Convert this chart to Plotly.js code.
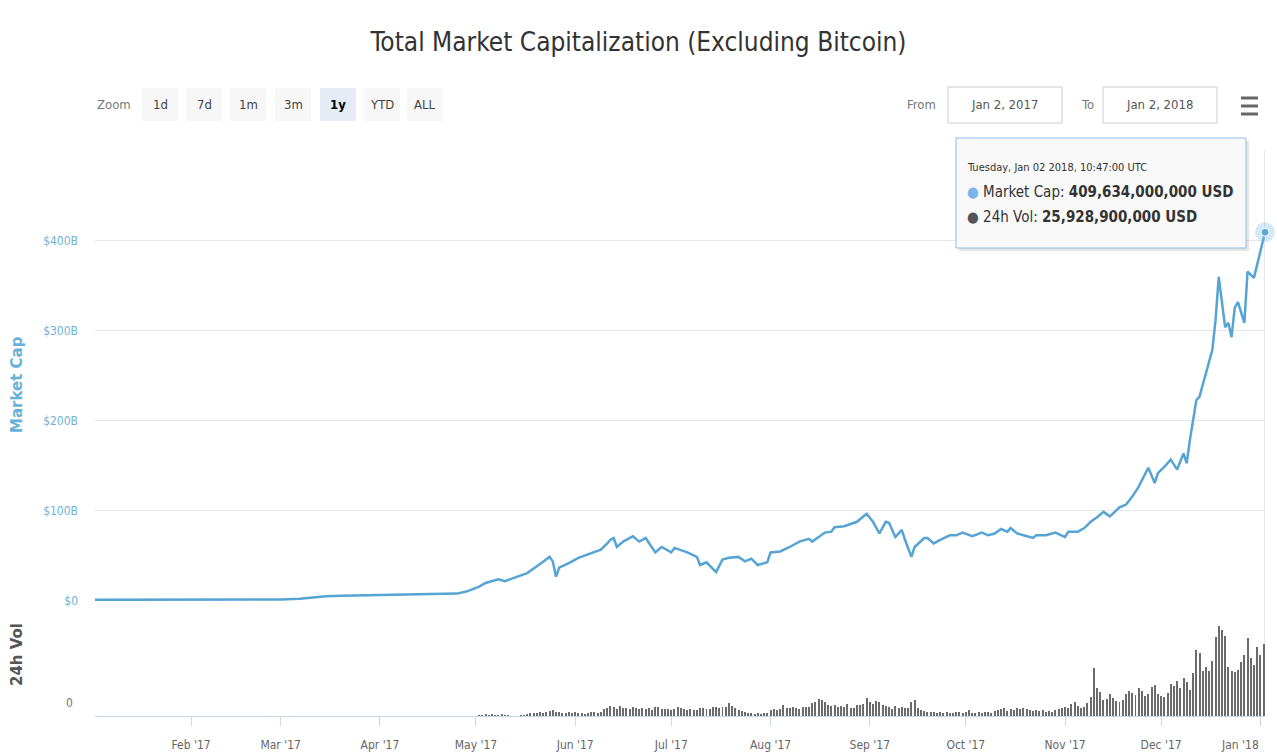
<!DOCTYPE html>
<html><head><meta charset="utf-8">
<script src="https://cdn.plot.ly/plotly-3.0.1.min.js"></script>
<style>html,body{margin:0;padding:0;background:#fff}#chart{width:1277px;height:755px}</style>
</head><body><div id="chart"></div>
<script>
// ---------- DATA ----------
const mcDates = ['2017-01-02','2017-01-10','2017-01-20','2017-02-01','2017-02-10','2017-02-20','2017-03-01','2017-03-07','2017-03-11','2017-03-15','2017-03-20','2017-03-28','2017-04-05','2017-04-15','2017-04-25','2017-04-28','2017-05-01','2017-05-02','2017-05-04','2017-05-08','2017-05-10','2017-05-14','2017-05-17','2017-05-21','2017-05-23','2017-05-24','2017-05-25','2017-05-26','2017-05-27','2017-05-30','2017-06-02','2017-06-06','2017-06-09','2017-06-11','2017-06-12','2017-06-13','2017-06-14','2017-06-16','2017-06-19','2017-06-21','2017-06-23','2017-06-26','2017-06-28','2017-07-01','2017-07-02','2017-07-06','2017-07-09','2017-07-10','2017-07-12','2017-07-15','2017-07-17','2017-07-19','2017-07-22','2017-07-24','2017-07-26','2017-07-28','2017-07-31','2017-08-01','2017-08-04','2017-08-07','2017-08-10','2017-08-13','2017-08-14','2017-08-18','2017-08-20','2017-08-21','2017-08-24','2017-08-28','2017-08-31','2017-09-02','2017-09-04','2017-09-06','2017-09-07','2017-09-09','2017-09-11','2017-09-12','2017-09-14','2017-09-15','2017-09-18','2017-09-19','2017-09-21','2017-09-23','2017-09-26','2017-09-28','2017-09-30','2017-10-03','2017-10-06','2017-10-08','2017-10-10','2017-10-12','2017-10-14','2017-10-15','2017-10-17','2017-10-19','2017-10-22','2017-10-23','2017-10-26','2017-10-29','2017-11-01','2017-11-02','2017-11-05','2017-11-07','2017-11-09','2017-11-11','2017-11-13','2017-11-15','2017-11-18','2017-11-20','2017-11-22','2017-11-24','2017-11-27','2017-11-29','2017-11-30','2017-12-02','2017-12-04','2017-12-06','2017-12-08','2017-12-09','2017-12-10','2017-12-12','2017-12-13','2017-12-15','2017-12-17','2017-12-18','2017-12-19','2017-12-21','2017-12-22','2017-12-23','2017-12-24','2017-12-25','2017-12-27','2017-12-28','2017-12-30','2018-01-02 10:47'];
const mcValues = [1.3,1.3,1.4,1.4,1.5,1.6,1.8,2.4,3.6,5.4,5.8,6.4,7.0,7.6,8.2,10.5,14.5,16,20,24,22,27,31,41,46,49,44,27,37,42,48,53,57,64,68,70,60,66,72,66,70,54,60,54,59,54,49,40,43,32,46,48,49,44,47,40,43,54,55,60,66,69,66,76,77,82,83,88,97,88,75,88,87,71,79,68,49,60,70,70,64,68,73,73,76,72,76,73,75,80,77,81,75,73,70,73,73,76,71,77,77,81,88,93,99,94,104,107,116,127,148,131,142,149,157,146,164,153,179,223,227,253,279,312,360,304,309,293,326,332,309,366,359,409.634];

const volStart = '2017-05-02';
const volValues = [
 // May 2 - May 31
 0.5,0.3,0.6,0.4,0.7,0.3,0.5,0.6,0.4,0.3,0.1,0.1,0.1,0.2,0.3,0.9,1.0,1.1,1.2,1.4,1.0,1.6,1.9,2.0,1.3,1.5,1.2,1.0,1.3,1.1,
 // Jun
 1.4,1.2,1.0,0.9,1.1,1.5,1.3,1.2,1.6,2.4,2.8,3.6,3.2,2.6,3.5,2.8,3.0,2.4,3.4,3.0,2.6,2.9,2.5,2.8,2.3,3.1,3.3,2.6,2.4,2.7,
 // Jul
 2.2,2.5,3.1,2.9,2.4,2.3,2.6,2.2,2.1,2.8,3.0,2.6,2.7,3.2,3.1,2.9,3.3,3.4,4.8,3.6,2.9,2.0,1.8,1.4,1.2,1.0,0.9,1.1,0.8,1.0,1.2,
 // Aug
 2.0,2.4,2.2,2.6,4.0,2.8,3.0,3.2,3.0,2.7,3.3,3.1,3.4,4.6,5.2,6.0,5.8,5.1,4.0,3.6,3.9,3.3,3.6,3.1,4.2,3.0,2.8,4.1,3.8,4.5,6.5,
 // Sep
 5.0,4.2,5.6,5.2,4.0,3.5,3.1,2.6,3.6,2.9,3.4,2.8,3.0,4.9,5.8,3.0,2.0,1.8,1.5,1.6,1.3,1.2,1.4,1.1,1.5,1.2,1.0,1.3,1.6,1.2,
 // Oct
 1.4,2.0,1.2,1.0,1.4,1.1,1.3,1.6,1.2,1.8,2.0,2.6,2.8,1.9,2.5,2.2,3.0,2.6,2.9,2.4,2.2,1.8,2.0,1.7,2.3,1.6,1.9,1.4,2.2,2.6,3.0,
 // Nov
 3.4,2.8,4.2,5.0,3.6,2.9,3.2,4.6,7.0,17.5,10.0,8.6,5.8,6.2,7.8,6.4,5.4,5.0,5.8,7.8,9.2,8.4,7.6,10.0,9.0,7.2,8.1,10.4,11.2,8.0,
 // Dec
 7.4,7.0,8.2,11.6,11.0,12.6,10.2,13.8,12.4,9.5,15.6,23.8,22.6,16.4,17.8,16.2,20.0,28.5,32.6,31.2,29.0,17.8,16.4,15.8,16.5,19.6,22.2,28.2,21.0,18.4,25.0,
 // Jan 1 - Jan 2
 22.0,25.9289];

const monthTicks = ['2017-02-01','2017-03-01','2017-04-01','2017-05-01','2017-06-01','2017-07-01','2017-08-01','2017-09-01','2017-10-01','2017-11-01','2017-12-01','2018-01-01'];
const monthLabels = ["Feb '17","Mar '17","Apr '17","May '17","Jun '17","Jul '17","Aug '17","Sep '17","Oct '17","Nov '17","Dec '17",""];
const lastMonthLabel = "Jan '18";
const capTickVals = [0,100,200,300,400,500];
const capTickText = ['$0','$100B','$200B','$300B','$400B',''];
const rangeButtons = ['1d','7d','1m','3m','1y','YTD','ALL'];
const selectedButton = '1y';
const fromDate = 'Jan 2, 2017';
const toDate = 'Jan 2, 2018';
const tooltipDate = 'Tuesday, Jan 02 2018, 10:47:00 UTC';

// ---------- BUILD ----------
const volDates = volValues.map((v,i)=>new Date(Date.parse(volStart+'T00:00:00Z')+i*86400000).toISOString().slice(0,10));

const FONT = '"DejaVu Sans Condensed","Liberation Sans",Arial,sans-serif';
const L=95, R=1265, T=150, B=716;
const px = x => (x-L)/(R-L);
const py = y => (B-y)/(B-T);

const lineColor = '#55a4d4';
const lastDate = mcDates[mcDates.length-1];
const lastCap = mcValues[mcValues.length-1];
const lastVol = volValues[volValues.length-1];
const fmt = v => Math.round(v*1e9).toLocaleString('en-US');

const traces = [
 {type:'scatter', mode:'lines', x:mcDates, y:mcValues, xaxis:'x', yaxis:'y',
  line:{color:lineColor, width:2.5}, hoverinfo:'skip'},
 {type:'bar', x:volDates, y:volValues, xaxis:'x', yaxis:'y2',
  marker:{color:'#6b6b6b', line:{width:0}}, width:0.62*86400000, hoverinfo:'skip'},
 {type:'scatter', mode:'markers', x:[lastDate], y:[lastCap], xaxis:'x', yaxis:'y',
  marker:{size:20, color:'rgba(124,181,236,0.30)'}, hoverinfo:'skip', cliponaxis:false},
 {type:'scatter', mode:'markers', x:[lastDate], y:[lastCap], xaxis:'x', yaxis:'y',
  marker:{size:8, color:'#5aaad8', line:{color:'#ffffff', width:1}}, hoverinfo:'skip', cliponaxis:false}
];

const shapes = [];
const annotations = [];
function rect(x0,y0,x1,y1,fill,lc,lw){shapes.push({type:'rect',xref:'paper',yref:'paper',x0:px(x0),x1:px(x1),y0:py(y1),y1:py(y0),fillcolor:fill,line:{color:lc||'rgba(0,0,0,0)',width:lw||0},layer:'above'});}
function txt(x,y,text,size,color,anchor,extra,fam){annotations.push(Object.assign({xref:'paper',yref:'paper',x:px(x),y:py(y),text:text,showarrow:false,xanchor:anchor||'center',yanchor:'middle',font:{family:fam||FONT,size:size,color:color}},extra||{}));}

// crosshair
shapes.push({type:'line',xref:'x',yref:'paper',x0:lastDate,x1:lastDate,y0:0,y1:1,line:{color:'#cccccc',width:1},layer:'below'});

// range selector
txt(114,104,'Zoom',13,'#777');
const btnX = [160,204,248,293,338,382,425];
rangeButtons.forEach((b,i)=>{
  const sel = b===selectedButton;
  rect(btnX[i]-18,88,btnX[i]+18,121, sel?'#e6ebf5':'#f7f7f7');
  txt(btnX[i],104, sel?'<b>'+b+'</b>':b, 13, sel?'#000':'#444');
});
txt(921,104,'From',13,'#777');
rect(948,87,1062,123,'#ffffff','#cccccc',1);
txt(1004,104,fromDate,13,'#555');
txt(1087,104,'To',13,'#777');
rect(1103,87,1217,123,'#ffffff','#cccccc',1);
txt(1159,104,toDate,13,'#555');
[98,106,114].forEach(y=>rect(1241,y-1.5,1258,y+1.5,'#666666'));

// tooltip
rect(959,141,1249,251,'rgba(0,0,0,0.10)');
rect(956,138,1246,248,'rgba(249,249,249,0.97)','#8cc0e0',1);
txt(965,167,tooltipDate,11,'#333','left');
txt(965,192,'<span style="color:#7cb5ec">●</span> Market Cap: <b>'+fmt(lastCap)+' USD</b>',15,'#333','left');
txt(965,217,'<span style="color:#555">●</span> 24h Vol: <b>'+fmt(lastVol)+' USD</b>',15,'#333','left');

// axis titles
txt(17,385,'<b>Market Cap</b>',15,'#68b0da','center',{textangle:-90},'"DejaVu Sans",sans-serif');
txt(17,655,'<b>24h Vol</b>',15,'#555','center',{textangle:-90},'"DejaVu Sans",sans-serif');
txt(69,703,'0',12,'#777');
txt(1240,745,lastMonthLabel,12,'#666');

const layout = {
 width:1277, height:755,
 margin:{l:L, r:1277-R, t:T, b:755-B, pad:0},
 paper_bgcolor:'#ffffff', plot_bgcolor:'#ffffff',
 showlegend:false, bargap:0,
 font:{family:FONT, color:'#666', size:12},
 title:{text:'Total Market Capitalization (Excluding Bitcoin)', font:{family:FONT, size:26, color:'#333'},
        x:0.5, xref:'container', xanchor:'center', y:1-42/755, yref:'container', yanchor:'middle'},
 xaxis:{type:'date', range:['2017-01-02 00:00', lastDate], anchor:'y2',
        tickvals:monthTicks, ticktext:monthLabels, ticks:'outside', ticklen:9, tickcolor:'#ccd6eb',
        showgrid:false, showline:true, linecolor:'#ccd6eb', linewidth:1, zeroline:false, ticklabelstandoff:9,
        tickfont:{family:FONT, size:12, color:'#666'}, fixedrange:true},
 yaxis:{domain:[py(601),1], range:[0,501], tickvals:capTickVals, ticktext:capTickText,
        gridcolor:'#e6e6e6', showline:false, zeroline:false, ticks:'', ticklabelstandoff:16,
        tickfont:{family:FONT, size:12, color:'#6fb3d6'}, fixedrange:true},
 yaxis2:{domain:[0,py(607)], range:[0,39.4], showticklabels:false, showgrid:false, zeroline:false, ticks:'', fixedrange:true},
 shapes:shapes, annotations:annotations
};

Plotly.newPlot('chart', traces, layout, {displayModeBar:false, staticPlot:true});
</script></body></html>
